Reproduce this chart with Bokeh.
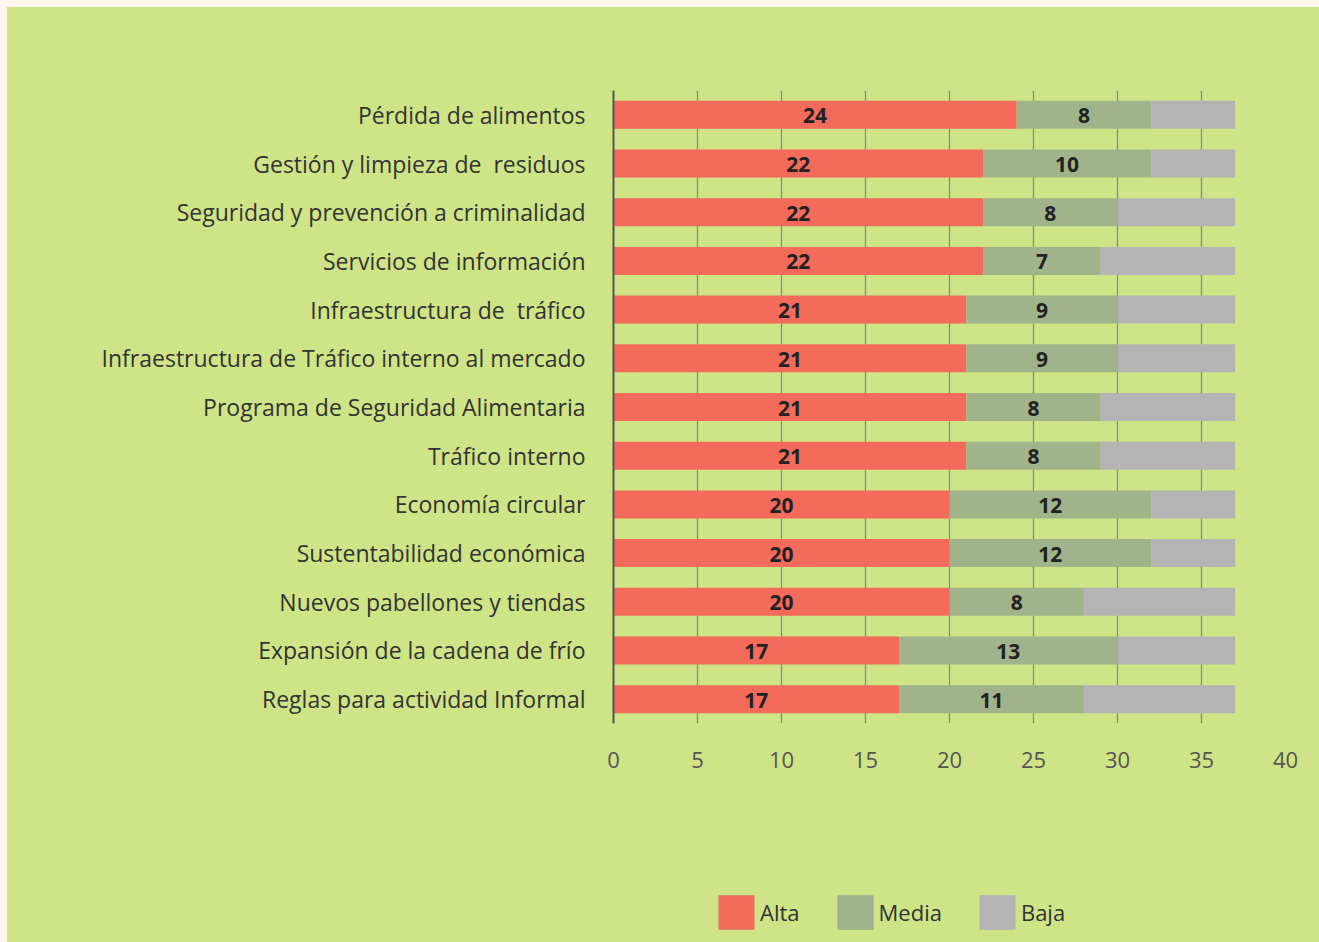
from bokeh.plotting import figure
from bokeh.models import ColumnDataSource, FactorRange, Range1d, Legend, LegendItem, FixedTicker, LabelSet
from bokeh.layouts import column
from bokeh.core.properties import value
from bokeh.embed import file_html
from bokeh.resources import INLINE

categories = [
    "Pérdida de alimentos",
    "Gestión y limpieza de \u00a0residuos",
    "Seguridad y prevención a criminalidad",
    "Servicios de información",
    "Infraestructura de \u00a0tráfico",
    "Infraestructura de Tráfico interno al mercado",
    "Programa de Seguridad Alimentaria",
    "Tráfico interno",
    "Economía circular",
    "Sustentabilidad económica",
    "Nuevos pabellones y tiendas",
    "Expansión de la cadena de frío",
    "Reglas para actividad Informal",
]
alta = [24, 22, 22, 22, 21, 21, 21, 21, 20, 20, 20, 17, 17]
media = [8, 10, 8, 7, 9, 9, 8, 8, 12, 12, 8, 13, 11]
baja = [5, 5, 7, 8, 7, 7, 8, 8, 5, 5, 9, 7, 9]
series_names = ["Alta", "Media", "Baja"]
x_ticks = [0, 5, 10, 15, 20, 25, 30, 35, 40]

colors = ["#f46b5c", "#a1b38b", "#b4b4b4"]
bg = "#cee486"
font = "Open Sans"

a_end = alta
m_end = [a + m for a, m in zip(alta, media)]
b_end = [a + m + b for a, m, b in zip(alta, media, baja)]

src = ColumnDataSource(dict(
    cat=categories,
    a0=[0] * len(alta), a1=a_end,
    m0=a_end, m1=m_end,
    b0=m_end, b1=b_end,
    alta_lbl=[str(v) for v in alta],
    media_lbl=[str(v) for v in media],
    alta_x=[a / 2 for a in alta],
    media_x=[a + m / 2 for a, m in zip(alta, media)],
))

p = figure(
    width=1312, height=860,
    y_range=FactorRange(*reversed(categories), range_padding=0, factor_padding=0),
    x_range=Range1d(0, 40),
    output_backend="svg", toolbar_location=None,
    min_border_left=606, min_border_top=83, min_border_right=34, min_border_bottom=144,
    background_fill_color=bg, border_fill_color=bg, outline_line_color=None,
)

h = 0.575
r1 = p.hbar(y="cat", left="a0", right="a1", height=h, source=src, fill_color=colors[0], line_color=None)
r2 = p.hbar(y="cat", left="m0", right="m1", height=h, source=src, fill_color=colors[1], line_color=None)
r3 = p.hbar(y="cat", left="b0", right="b1", height=h, source=src, fill_color=colors[2], line_color=None)

for xcol, tcol in (("alta_x", "alta_lbl"), ("media_x", "media_lbl")):
    p.add_layout(LabelSet(x=xcol, y="cat", text=tcol, source=src,
                          text_align="center", text_baseline="middle",
                          text_font=value(font), text_font_style="bold",
                          text_font_size="21px", text_color="#222222", y_offset=-1))

# axes
p.xaxis.ticker = FixedTicker(ticks=x_ticks)
p.xaxis.axis_line_color = None
p.xaxis.major_tick_line_color = None
p.xaxis.minor_tick_line_color = None
p.xaxis.major_label_text_font = font
p.xaxis.major_label_text_font_size = "22px"
p.xaxis.major_label_text_color = "#555555"
p.xaxis.major_label_standoff = 22

p.yaxis.axis_line_color = "#555555"
p.yaxis.axis_line_width = 2
p.yaxis.major_tick_line_color = None
p.yaxis.minor_tick_line_color = None
p.yaxis.major_label_text_font = font
p.yaxis.major_label_text_font_size = "23px"
p.yaxis.major_label_text_color = "#333333"
p.yaxis.major_label_standoff = 22

p.xgrid.ticker = FixedTicker(ticks=x_ticks[1:])
p.xgrid.grid_line_color = "#8a8a8a"
p.xgrid.grid_line_width = 1.3
p.ygrid.grid_line_color = None

# legend strip below the chart
lg = figure(
    width=1312, height=75, output_backend="svg", toolbar_location=None,
    x_axis_type=None, y_axis_type=None, min_border=0,
    x_range=Range1d(0, 1), y_range=Range1d(0, 1),
    background_fill_color=bg, background_fill_alpha=0,
    border_fill_color=bg, outline_line_color=None,
)
lg.xgrid.grid_line_color = None
lg.ygrid.grid_line_color = None
nan = float("nan")
dummy = ColumnDataSource(dict(l=[nan], r=[nan], b=[nan], t=[nan]))
lr = [lg.quad(left="l", right="r", bottom="b", top="t", source=dummy,
              fill_color=c, line_color="#e0806f" if i == 0 else c, line_width=1)
      for i, c in enumerate(colors)]

legend = Legend(
    items=[LegendItem(label=n, renderers=[r]) for n, r in zip(series_names, lr)],
    orientation="horizontal", location=(101, 9),
    background_fill_alpha=0, border_line_alpha=0,
    glyph_width=44, glyph_height=42, label_standoff=2, spacing=33,
    padding=0, margin=0,
    label_text_font=font, label_text_font_size="22px", label_text_color="#333333",
)
lg.add_layout(legend, "center")

layout = column(p, lg, spacing=0)
layout.styles = {"margin-left": "7px", "margin-top": "7px", "background-color": bg}

html = file_html(layout, INLINE)
html = html.replace("<body>", '<body style="margin:0;background:#fff7ee">')
open("out.html", "w").write(html)
